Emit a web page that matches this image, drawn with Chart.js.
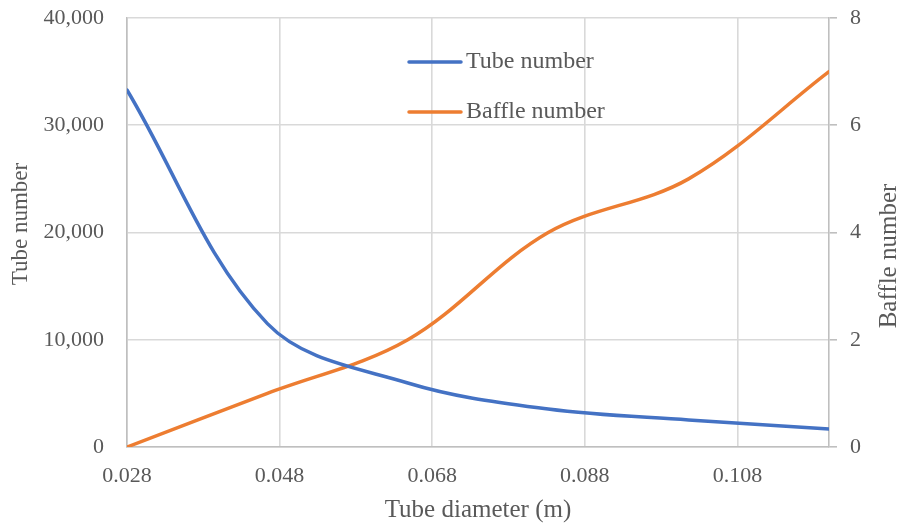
<!DOCTYPE html>
<html>
<head>
<meta charset="utf-8">
<script src="https://cdn.jsdelivr.net/npm/chart.js@4.4.0/dist/chart.umd.min.js"></script>
<style>
  html, body { margin: 0; padding: 0; background: #fff; }
  #wrap { width: 902px; height: 529px; }
</style>
</head>
<body>
<div id="wrap"><canvas id="chart" width="902" height="529"></canvas></div>
<script>
// tube diameter (m) and the resulting tube / baffle counts
const diameters = [0.028, 0.0464, 0.0648, 0.0832, 0.1016, 0.12];
const tubeNumbers = [33290, 11500, 5970, 3540, 2520, 1680];
const baffleNumbers = [0, 1, 2, 4, 5, 7];

const xTicks = [0.028, 0.048, 0.068, 0.088, 0.108];
const tubeTicks = [0, 10000, 20000, 30000, 40000];
const baffleTicks = [0, 2, 4, 6, 8];

const TEXT = "#595959";
const GRID = "#D9D9D9";
const AXIS = "#BFBFBF";
const SERIF = "'Liberation Serif', 'DejaVu Serif', serif";

const toPoints = (ys) => diameters.map((x, i) => ({x: x, y: ys[i]}));
const fixTicks = (list) => (scale) => {
  scale.ticks = list.map((v) => ({value: v}));
};
// fixed axis width, no extra room for half labels at the ends
const fixWidth = (w) => (scale) => {
  scale.width = w;
  scale.paddingTop = 0;
  scale.paddingBottom = 0;
};

// titles and the in-plot legend are drawn by hand
const decorations = {
  id: "decorations",
  afterDraw(chart) {
    const ctx = chart.ctx;
    ctx.save();
    ctx.fillStyle = TEXT;
    ctx.textBaseline = "middle";

    ctx.textAlign = "center";
    ctx.font = "25px " + SERIF;
    ctx.fillText("Tube diameter (m)", 478, 510);

    ctx.save();
    ctx.translate(21, 224);
    ctx.rotate(-Math.PI / 2);
    ctx.font = "23px " + SERIF;
    ctx.fillText("Tube number", 0, 0);
    ctx.restore();

    ctx.save();
    ctx.translate(889, 256);
    ctx.rotate(-Math.PI / 2);
    ctx.font = "25px " + SERIF;
    ctx.fillText("Baffle number", 0, 0);
    ctx.restore();

    // legend
    ctx.textAlign = "left";
    ctx.font = "24px " + SERIF;
    chart.data.datasets.forEach((ds, i) => {
      const y = 62 + i * 50;
      ctx.strokeStyle = ds.borderColor;
      ctx.lineWidth = 3.5;
      ctx.lineCap = "round";
      ctx.beginPath();
      ctx.moveTo(409, y);
      ctx.lineTo(461, y);
      ctx.stroke();
      ctx.fillStyle = TEXT;
      ctx.fillText(ds.label, 466, y);
    });
    ctx.restore();
  },
};

new Chart(document.getElementById("chart"), {
  type: "line",
  data: {
    datasets: [
      {
        label: "Tube number",
        data: toPoints(tubeNumbers),
        yAxisID: "y",
        borderColor: "#4472C4",
        borderWidth: 3.5,
        borderCapStyle: "round",
        pointRadius: 0,
        tension: 0.35,
      },
      {
        label: "Baffle number",
        data: toPoints(baffleNumbers),
        yAxisID: "y1",
        borderColor: "#ED7D31",
        borderWidth: 3.5,
        borderCapStyle: "round",
        pointRadius: 0,
        tension: 0.35,
      },
    ],
  },
  options: {
    responsive: false,
    animation: false,
    layout: {padding: {top: 18, left: 0, right: 0, bottom: 0}},
    plugins: {
      legend: {display: false},
      tooltip: {enabled: false},
    },
    scales: {
      x: {
        type: "linear",
        min: 0.028,
        max: 0.12,
        afterBuildTicks: fixTicks(xTicks),
        afterFit: (s) => {
          s.height = 82;
          s.paddingLeft = 0;
          s.paddingRight = 0;
        },
        grid: {color: GRID, lineWidth: 1.6, drawTicks: false},
        border: {color: AXIS, width: 1.6},
        ticks: {
          color: TEXT,
          font: {family: SERIF, size: 22},
          padding: 16,
          maxRotation: 0,
          autoSkip: false,
          callback: (v) => v.toFixed(3),
        },
      },
      y: {
        position: "left",
        min: 0,
        max: 40000,
        afterBuildTicks: fixTicks(tubeTicks),
        afterFit: fixWidth(127),
        grid: {color: GRID, lineWidth: 1.6, drawTicks: false},
        border: {color: AXIS, width: 1.6},
        ticks: {
          color: TEXT,
          font: {family: SERIF, size: 22},
          padding: 23,
          callback: (v) => v.toLocaleString("en-US"),
        },
      },
      y1: {
        position: "right",
        min: 0,
        max: 8,
        afterBuildTicks: fixTicks(baffleTicks),
        afterFit: fixWidth(73),
        grid: {
          drawOnChartArea: false,
          drawTicks: true,
          tickLength: 8,
          tickColor: AXIS,
          lineWidth: 1.6,
        },
        border: {color: AXIS, width: 1.6},
        ticks: {
          color: TEXT,
          font: {family: SERIF, size: 22},
          padding: 13,
        },
      },
    },
  },
  plugins: [decorations],
});
</script>
</body>
</html>
